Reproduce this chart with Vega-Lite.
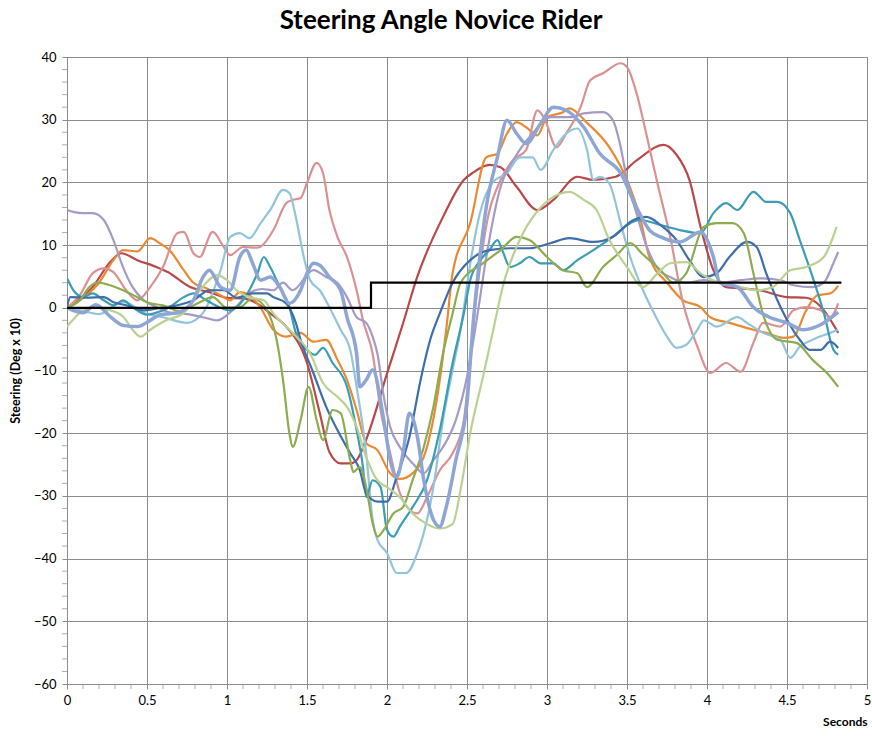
{
  "$schema": "https://vega.github.io/schema/vega-lite/v6.json",
  "width": 800,
  "height": 627,
  "autosize": {"type": "none"},
  "padding": {"left": 67, "top": 57, "right": 5, "bottom": 52},
  "background": "white",
  "config": {"view": {"stroke": "#8c8c8c"}, "font": "Lato"},
  "title": {"text": "Steering Angle Novice Rider", "font": "Lato", "fontSize": 26, "fontWeight": "bold", "color": "#000", "anchor": "middle", "offset": 17, "dx": -26},
  "datasets": {
    "steer": [
      {"s":"R","t":0,"v":0},{"s":"R","t":0.16,"v":3.3},{"s":"R","t":0.27,"v":7.3},{"s":"R","t":0.34,"v":8.7},{"s":"R","t":0.44,"v":7.6},{"s":"R","t":0.56,"v":6.5},{"s":"R","t":0.63,"v":5.7},{"s":"R","t":0.77,"v":3.3},{"s":"R","t":0.89,"v":2.5},{"s":"R","t":1.0,"v":1.6},{"s":"R","t":1.1,"v":1.5},{"s":"R","t":1.2,"v":0.5},{"s":"R","t":1.27,"v":-0.9},{"s":"R","t":1.37,"v":-3},{"s":"R","t":1.5,"v":-8.8},{"s":"R","t":1.58,"v":-16.8},{"s":"R","t":1.64,"v":-23},{"s":"R","t":1.71,"v":-24.8},{"s":"R","t":1.77,"v":-24.8},{"s":"R","t":1.81,"v":-24.3},{"s":"R","t":1.87,"v":-21},{"s":"R","t":2.0,"v":-10.5},{"s":"R","t":2.1,"v":-2.5},{"s":"R","t":2.19,"v":5},{"s":"R","t":2.35,"v":14.5},{"s":"R","t":2.48,"v":20.4},{"s":"R","t":2.54,"v":21.6},{"s":"R","t":2.64,"v":22.8},{"s":"R","t":2.71,"v":22.4},{"s":"R","t":2.81,"v":19.3},{"s":"R","t":2.94,"v":15.6},{"s":"R","t":3.04,"v":17.2},{"s":"R","t":3.19,"v":20.9},{"s":"R","t":3.29,"v":20.4},{"s":"R","t":3.43,"v":20.9},{"s":"R","t":3.56,"v":23.5},{"s":"R","t":3.73,"v":26},{"s":"R","t":3.81,"v":24.4},{"s":"R","t":3.89,"v":20.4},{"s":"R","t":3.96,"v":12.9},{"s":"R","t":4.04,"v":6},{"s":"R","t":4.12,"v":3.3},{"s":"R","t":4.21,"v":3.1},{"s":"R","t":4.33,"v":2.8},{"s":"R","t":4.5,"v":1.7},{"s":"R","t":4.62,"v":1.6},{"s":"R","t":4.71,"v":0.2},{"s":"R","t":4.82,"v":-4},
      {"s":"O","t":0,"v":0},{"s":"O","t":0.08,"v":1.2},{"s":"O","t":0.2,"v":4},{"s":"O","t":0.29,"v":7.6},{"s":"O","t":0.35,"v":9.2},{"s":"O","t":0.44,"v":9},{"s":"O","t":0.52,"v":11.1},{"s":"O","t":0.58,"v":10.3},{"s":"O","t":0.64,"v":9.2},{"s":"O","t":0.73,"v":6},{"s":"O","t":0.79,"v":4},{"s":"O","t":0.87,"v":3.1},{"s":"O","t":0.96,"v":2},{"s":"O","t":1.02,"v":1.2},{"s":"O","t":1.08,"v":2.5},{"s":"O","t":1.14,"v":2},{"s":"O","t":1.21,"v":0},{"s":"O","t":1.29,"v":-3.5},{"s":"O","t":1.37,"v":-4.6},{"s":"O","t":1.46,"v":-4},{"s":"O","t":1.54,"v":-5.4},{"s":"O","t":1.62,"v":-5.1},{"s":"O","t":1.69,"v":-8.3},{"s":"O","t":1.75,"v":-11.5},{"s":"O","t":1.81,"v":-16.3},{"s":"O","t":1.87,"v":-21.6},{"s":"O","t":1.94,"v":-22.7},{"s":"O","t":2.02,"v":-26.4},{"s":"O","t":2.08,"v":-27.3},{"s":"O","t":2.16,"v":-26.4},{"s":"O","t":2.25,"v":-22.2},{"s":"O","t":2.33,"v":-11.5},{"s":"O","t":2.37,"v":-3.5},{"s":"O","t":2.41,"v":5.5},{"s":"O","t":2.52,"v":13.5},{"s":"O","t":2.62,"v":24},{"s":"O","t":2.69,"v":24.6},{"s":"O","t":2.75,"v":27.8},{"s":"O","t":2.81,"v":29.6},{"s":"O","t":2.87,"v":28.8},{"s":"O","t":2.94,"v":27.5},{"s":"O","t":3.0,"v":30.4},{"s":"O","t":3.1,"v":31.2},{"s":"O","t":3.14,"v":31.8},{"s":"O","t":3.25,"v":29.5},{"s":"O","t":3.39,"v":25.6},{"s":"O","t":3.5,"v":20.4},{"s":"O","t":3.58,"v":14.5},{"s":"O","t":3.64,"v":8.1},{"s":"O","t":3.75,"v":4},{"s":"O","t":3.85,"v":1.2},{"s":"O","t":3.96,"v":0.1},{"s":"O","t":4.02,"v":-1.5},{"s":"O","t":4.14,"v":-2.4},{"s":"O","t":4.29,"v":-3.5},{"s":"O","t":4.37,"v":-4},{"s":"O","t":4.48,"v":-4.8},{"s":"O","t":4.54,"v":-4.6},{"s":"O","t":4.62,"v":-0.4},{"s":"O","t":4.69,"v":2},{"s":"O","t":4.77,"v":2.3},{"s":"O","t":4.82,"v":3.5},
      {"s":"P","t":0,"v":0},{"s":"P","t":0.08,"v":2},{"s":"P","t":0.16,"v":5.5},{"s":"P","t":0.23,"v":6.3},{"s":"P","t":0.29,"v":5.7},{"s":"P","t":0.37,"v":2.8},{"s":"P","t":0.44,"v":1.2},{"s":"P","t":0.52,"v":3.3},{"s":"P","t":0.6,"v":6.5},{"s":"P","t":0.69,"v":11.9},{"s":"P","t":0.73,"v":12.1},{"s":"P","t":0.79,"v":8.7},{"s":"P","t":0.83,"v":8.1},{"s":"P","t":0.91,"v":12.1},{"s":"P","t":0.98,"v":9.7},{"s":"P","t":1.02,"v":8.4},{"s":"P","t":1.1,"v":9.7},{"s":"P","t":1.19,"v":9.6},{"s":"P","t":1.29,"v":12.4},{"s":"P","t":1.37,"v":16.7},{"s":"P","t":1.41,"v":17.2},{"s":"P","t":1.46,"v":17.5},{"s":"P","t":1.5,"v":19.9},{"s":"P","t":1.56,"v":23.1},{"s":"P","t":1.6,"v":21.5},{"s":"P","t":1.64,"v":15.6},{"s":"P","t":1.69,"v":11.3},{"s":"P","t":1.75,"v":8.1},{"s":"P","t":1.81,"v":2.8},{"s":"P","t":1.85,"v":-2},{"s":"P","t":1.91,"v":-7.3},{"s":"P","t":1.96,"v":-16.3},{"s":"P","t":2.02,"v":-23.2},{"s":"P","t":2.08,"v":-29.5},{"s":"P","t":2.14,"v":-32.2},{"s":"P","t":2.19,"v":-32.8},{"s":"P","t":2.25,"v":-30.2},{"s":"P","t":2.33,"v":-25.9},{"s":"P","t":2.41,"v":-23.2},{"s":"P","t":2.48,"v":-18},{"s":"P","t":2.52,"v":-8},{"s":"P","t":2.56,"v":2},{"s":"P","t":2.62,"v":13},{"s":"P","t":2.71,"v":20.4},{"s":"P","t":2.79,"v":23.6},{"s":"P","t":2.87,"v":25.2},{"s":"P","t":2.94,"v":31.5},{"s":"P","t":2.98,"v":30.4},{"s":"P","t":3.06,"v":25.6},{"s":"P","t":3.12,"v":27.8},{"s":"P","t":3.21,"v":32},{"s":"P","t":3.27,"v":36.3},{"s":"P","t":3.35,"v":37.4},{"s":"P","t":3.46,"v":39},{"s":"P","t":3.5,"v":38.4},{"s":"P","t":3.56,"v":34.2},{"s":"P","t":3.62,"v":27.8},{"s":"P","t":3.69,"v":19.9},{"s":"P","t":3.77,"v":11.3},{"s":"P","t":3.85,"v":0.8},{"s":"P","t":3.94,"v":-6.2},{"s":"P","t":4.02,"v":-10.4},{"s":"P","t":4.12,"v":-8.8},{"s":"P","t":4.21,"v":-10.2},{"s":"P","t":4.29,"v":-5.6},{"s":"P","t":4.35,"v":-2.4},{"s":"P","t":4.46,"v":-3},{"s":"P","t":4.54,"v":-0.4},{"s":"P","t":4.62,"v":0.1},{"s":"P","t":4.71,"v":-0.4},{"s":"P","t":4.77,"v":-1.5},{"s":"P","t":4.82,"v":0.7},
      {"s":"LB","t":0,"v":0},{"s":"LB","t":0.1,"v":-0.5},{"s":"LB","t":0.2,"v":-1},{"s":"LB","t":0.35,"v":1},{"s":"LB","t":0.5,"v":-1},{"s":"LB","t":0.6,"v":-1.5},{"s":"LB","t":0.75,"v":-2.4},{"s":"LB","t":0.85,"v":-0.8},{"s":"LB","t":0.96,"v":6},{"s":"LB","t":1.02,"v":11.3},{"s":"LB","t":1.08,"v":11.9},{"s":"LB","t":1.14,"v":11.1},{"s":"LB","t":1.21,"v":13.5},{"s":"LB","t":1.27,"v":15.6},{"s":"LB","t":1.35,"v":18.8},{"s":"LB","t":1.39,"v":18.3},{"s":"LB","t":1.43,"v":14.5},{"s":"LB","t":1.48,"v":8.1},{"s":"LB","t":1.52,"v":4.4},{"s":"LB","t":1.58,"v":2.8},{"s":"LB","t":1.64,"v":0.1},{"s":"LB","t":1.71,"v":-3.5},{"s":"LB","t":1.77,"v":-6.7},{"s":"LB","t":1.81,"v":-12.6},{"s":"LB","t":1.87,"v":-23.2},{"s":"LB","t":1.91,"v":-33.8},{"s":"LB","t":1.94,"v":-37},{"s":"LB","t":2.0,"v":-39.1},{"s":"LB","t":2.06,"v":-42.3},{"s":"LB","t":2.12,"v":-42.3},{"s":"LB","t":2.19,"v":-39.1},{"s":"LB","t":2.25,"v":-33.8},{"s":"LB","t":2.29,"v":-28.6},{"s":"LB","t":2.35,"v":-17.9},{"s":"LB","t":2.41,"v":-9.9},{"s":"LB","t":2.46,"v":-3.5},{"s":"LB","t":2.52,"v":7},{"s":"LB","t":2.58,"v":15},{"s":"LB","t":2.66,"v":20},{"s":"LB","t":2.75,"v":21.5},{"s":"LB","t":2.83,"v":24},{"s":"LB","t":2.91,"v":24},{"s":"LB","t":2.96,"v":22},{"s":"LB","t":3.04,"v":25.2},{"s":"LB","t":3.12,"v":27.8},{"s":"LB","t":3.19,"v":28.6},{"s":"LB","t":3.25,"v":25.2},{"s":"LB","t":3.29,"v":20.4},{"s":"LB","t":3.33,"v":20.9},{"s":"LB","t":3.39,"v":19.8},{"s":"LB","t":3.46,"v":13.5},{"s":"LB","t":3.52,"v":8.1},{"s":"LB","t":3.6,"v":2.8},{"s":"LB","t":3.66,"v":-0.4},{"s":"LB","t":3.75,"v":-4.6},{"s":"LB","t":3.81,"v":-6.4},{"s":"LB","t":3.87,"v":-5.9},{"s":"LB","t":3.94,"v":-3.5},{"s":"LB","t":3.98,"v":-2},{"s":"LB","t":4.06,"v":-3},{"s":"LB","t":4.19,"v":-1.5},{"s":"LB","t":4.25,"v":-2.4},{"s":"LB","t":4.35,"v":-4},{"s":"LB","t":4.46,"v":-5.1},{"s":"LB","t":4.52,"v":-8},{"s":"LB","t":4.58,"v":-6.2},{"s":"LB","t":4.66,"v":-5.1},{"s":"LB","t":4.77,"v":-4},{"s":"LB","t":4.82,"v":-3.5},
      {"s":"LV","t":0,"v":15.6},{"s":"LV","t":0.04,"v":15.3},{"s":"LV","t":0.1,"v":15.1},{"s":"LV","t":0.16,"v":15.1},{"s":"LV","t":0.23,"v":14},{"s":"LV","t":0.29,"v":10.8},{"s":"LV","t":0.35,"v":6.5},{"s":"LV","t":0.41,"v":3.3},{"s":"LV","t":0.48,"v":1.2},{"s":"LV","t":0.56,"v":0.1},{"s":"LV","t":0.65,"v":-0.8},{"s":"LV","t":0.75,"v":-1},{"s":"LV","t":0.85,"v":-1.5},{"s":"LV","t":0.94,"v":-2},{"s":"LV","t":1.05,"v":0},{"s":"LV","t":1.15,"v":2.5},{"s":"LV","t":1.22,"v":3},{"s":"LV","t":1.29,"v":2.8},{"s":"LV","t":1.35,"v":4},{"s":"LV","t":1.41,"v":2.8},{"s":"LV","t":1.54,"v":6},{"s":"LV","t":1.62,"v":4.9},{"s":"LV","t":1.69,"v":4},{"s":"LV","t":1.75,"v":1.7},{"s":"LV","t":1.81,"v":-1.5},{"s":"LV","t":1.87,"v":-2.4},{"s":"LV","t":1.91,"v":-4.6},{"s":"LV","t":1.94,"v":-7.3},{"s":"LV","t":1.98,"v":-14.2},{"s":"LV","t":2.02,"v":-19},{"s":"LV","t":2.08,"v":-22.2},{"s":"LV","t":2.16,"v":-24.8},{"s":"LV","t":2.23,"v":-26.4},{"s":"LV","t":2.29,"v":-24.3},{"s":"LV","t":2.35,"v":-22.2},{"s":"LV","t":2.43,"v":-17.9},{"s":"LV","t":2.5,"v":-11},{"s":"LV","t":2.56,"v":-2},{"s":"LV","t":2.62,"v":8},{"s":"LV","t":2.71,"v":19.3},{"s":"LV","t":2.8,"v":24},{"s":"LV","t":2.91,"v":27.8},{"s":"LV","t":3.02,"v":30.4},{"s":"LV","t":3.16,"v":30.4},{"s":"LV","t":3.23,"v":31},{"s":"LV","t":3.35,"v":31.2},{"s":"LV","t":3.41,"v":30},{"s":"LV","t":3.46,"v":25.7},{"s":"LV","t":3.5,"v":20.4},{"s":"LV","t":3.56,"v":15},{"s":"LV","t":3.62,"v":10},{"s":"LV","t":3.7,"v":6},{"s":"LV","t":3.77,"v":4.9},{"s":"LV","t":3.87,"v":4},{"s":"LV","t":3.98,"v":4.4},{"s":"LV","t":4.08,"v":4},{"s":"LV","t":4.21,"v":4.4},{"s":"LV","t":4.33,"v":4.7},{"s":"LV","t":4.46,"v":4.4},{"s":"LV","t":4.54,"v":3.6},{"s":"LV","t":4.66,"v":3.3},{"s":"LV","t":4.73,"v":4},{"s":"LV","t":4.79,"v":7.1},{"s":"LV","t":4.82,"v":8.9},
      {"s":"T","t":0,"v":4.7},{"s":"T","t":0.04,"v":2.8},{"s":"T","t":0.1,"v":1.7},{"s":"T","t":0.16,"v":2.3},{"s":"T","t":0.23,"v":1.2},{"s":"T","t":0.29,"v":0.4},{"s":"T","t":0.35,"v":1.2},{"s":"T","t":0.41,"v":0.1},{"s":"T","t":0.5,"v":-1.1},{"s":"T","t":0.58,"v":-0.6},{"s":"T","t":0.64,"v":0.1},{"s":"T","t":0.73,"v":1.7},{"s":"T","t":0.79,"v":2.3},{"s":"T","t":0.87,"v":1.2},{"s":"T","t":0.96,"v":0},{"s":"T","t":1.02,"v":-0.4},{"s":"T","t":1.1,"v":1.2},{"s":"T","t":1.19,"v":5.5},{"s":"T","t":1.23,"v":8.1},{"s":"T","t":1.27,"v":6.5},{"s":"T","t":1.33,"v":3.3},{"s":"T","t":1.39,"v":0.1},{"s":"T","t":1.43,"v":-4},{"s":"T","t":1.5,"v":-6.7},{"s":"T","t":1.55,"v":-7.5},{"s":"T","t":1.6,"v":-6.4},{"s":"T","t":1.66,"v":-8.8},{"s":"T","t":1.75,"v":-12.6},{"s":"T","t":1.81,"v":-19.5},{"s":"T","t":1.85,"v":-25.4},{"s":"T","t":1.87,"v":-30.2},{"s":"T","t":1.91,"v":-27.5},{"s":"T","t":1.96,"v":-28.6},{"s":"T","t":2.0,"v":-35.4},{"s":"T","t":2.04,"v":-36.5},{"s":"T","t":2.08,"v":-34.9},{"s":"T","t":2.16,"v":-31.8},{"s":"T","t":2.25,"v":-27.5},{"s":"T","t":2.33,"v":-19.5},{"s":"T","t":2.41,"v":-8.8},{"s":"T","t":2.48,"v":-0.9},{"s":"T","t":2.52,"v":4.4},{"s":"T","t":2.58,"v":7.5},{"s":"T","t":2.64,"v":9.2},{"s":"T","t":2.69,"v":10.8},{"s":"T","t":2.72,"v":9.2},{"s":"T","t":2.77,"v":6.5},{"s":"T","t":2.83,"v":7.1},{"s":"T","t":2.89,"v":8.1},{"s":"T","t":2.96,"v":7.1},{"s":"T","t":3.04,"v":7.1},{"s":"T","t":3.1,"v":6},{"s":"T","t":3.19,"v":7.6},{"s":"T","t":3.29,"v":9.2},{"s":"T","t":3.41,"v":11.3},{"s":"T","t":3.52,"v":13.5},{"s":"T","t":3.58,"v":14},{"s":"T","t":3.71,"v":13.2},{"s":"T","t":3.83,"v":12.4},{"s":"T","t":3.96,"v":11.9},{"s":"T","t":4.04,"v":15.1},{"s":"T","t":4.12,"v":16.7},{"s":"T","t":4.19,"v":15.6},{"s":"T","t":4.29,"v":18.5},{"s":"T","t":4.37,"v":16.9},{"s":"T","t":4.44,"v":16.9},{"s":"T","t":4.52,"v":15.1},{"s":"T","t":4.58,"v":10.8},{"s":"T","t":4.66,"v":4.9},{"s":"T","t":4.73,"v":-0.8},{"s":"T","t":4.79,"v":-6.7},{"s":"T","t":4.82,"v":-7.5},
      {"s":"DB","t":0,"v":0},{"s":"DB","t":0.02,"v":1.7},{"s":"DB","t":0.12,"v":1.6},{"s":"DB","t":0.23,"v":1.7},{"s":"DB","t":0.29,"v":0.9},{"s":"DB","t":0.37,"v":0.4},{"s":"DB","t":0.48,"v":-0.4},{"s":"DB","t":0.58,"v":0},{"s":"DB","t":0.69,"v":0.4},{"s":"DB","t":0.79,"v":1.2},{"s":"DB","t":0.89,"v":2.8},{"s":"DB","t":0.98,"v":2.8},{"s":"DB","t":1.06,"v":1.6},{"s":"DB","t":1.16,"v":2.3},{"s":"DB","t":1.25,"v":2.3},{"s":"DB","t":1.29,"v":1.7},{"s":"DB","t":1.37,"v":0.7},{"s":"DB","t":1.43,"v":-2.4},{"s":"DB","t":1.46,"v":-5.1},{"s":"DB","t":1.54,"v":-10.4},{"s":"DB","t":1.62,"v":-15.8},{"s":"DB","t":1.69,"v":-19.5},{"s":"DB","t":1.77,"v":-23.2},{"s":"DB","t":1.83,"v":-25.9},{"s":"DB","t":1.87,"v":-29.6},{"s":"DB","t":1.94,"v":-30.9},{"s":"DB","t":2.0,"v":-30.9},{"s":"DB","t":2.06,"v":-27},{"s":"DB","t":2.14,"v":-20.6},{"s":"DB","t":2.21,"v":-11.5},{"s":"DB","t":2.27,"v":-5.1},{"s":"DB","t":2.33,"v":-0.9},{"s":"DB","t":2.41,"v":4},{"s":"DB","t":2.52,"v":7.6},{"s":"DB","t":2.64,"v":9.2},{"s":"DB","t":2.77,"v":9.5},{"s":"DB","t":2.89,"v":9.5},{"s":"DB","t":3.02,"v":10.3},{"s":"DB","t":3.14,"v":11.1},{"s":"DB","t":3.29,"v":10.5},{"s":"DB","t":3.41,"v":11.3},{"s":"DB","t":3.54,"v":14},{"s":"DB","t":3.62,"v":14.5},{"s":"DB","t":3.71,"v":13.2},{"s":"DB","t":3.81,"v":10.8},{"s":"DB","t":3.89,"v":7.6},{"s":"DB","t":3.98,"v":4.9},{"s":"DB","t":4.06,"v":5.5},{"s":"DB","t":4.14,"v":8.1},{"s":"DB","t":4.25,"v":10.5},{"s":"DB","t":4.31,"v":9.7},{"s":"DB","t":4.37,"v":5.5},{"s":"DB","t":4.46,"v":0.1},{"s":"DB","t":4.5,"v":-1.9},{"s":"DB","t":4.58,"v":-5.1},{"s":"DB","t":4.64,"v":-6.7},{"s":"DB","t":4.71,"v":-6.7},{"s":"DB","t":4.77,"v":-5.4},{"s":"DB","t":4.82,"v":-6.4},
      {"s":"OG","t":0,"v":0},{"s":"OG","t":0.08,"v":1.2},{"s":"OG","t":0.14,"v":3.3},{"s":"OG","t":0.19,"v":4},{"s":"OG","t":0.27,"v":3.6},{"s":"OG","t":0.35,"v":2.8},{"s":"OG","t":0.44,"v":1.7},{"s":"OG","t":0.52,"v":0.7},{"s":"OG","t":0.6,"v":0.4},{"s":"OG","t":0.7,"v":-0.5},{"s":"OG","t":0.83,"v":0.9},{"s":"OG","t":0.91,"v":1.7},{"s":"OG","t":1.0,"v":0},{"s":"OG","t":1.08,"v":0.1},{"s":"OG","t":1.16,"v":1.5},{"s":"OG","t":1.25,"v":-0.4},{"s":"OG","t":1.31,"v":-5.1},{"s":"OG","t":1.35,"v":-11.5},{"s":"OG","t":1.39,"v":-20},{"s":"OG","t":1.41,"v":-22.2},{"s":"OG","t":1.46,"v":-17.9},{"s":"OG","t":1.51,"v":-12.6},{"s":"OG","t":1.56,"v":-17.9},{"s":"OG","t":1.6,"v":-21.1},{"s":"OG","t":1.66,"v":-16.3},{"s":"OG","t":1.71,"v":-16.8},{"s":"OG","t":1.77,"v":-24.3},{"s":"OG","t":1.79,"v":-26.2},{"s":"OG","t":1.83,"v":-25.4},{"s":"OG","t":1.87,"v":-28.6},{"s":"OG","t":1.91,"v":-34.3},{"s":"OG","t":1.94,"v":-36.5},{"s":"OG","t":1.98,"v":-35.4},{"s":"OG","t":2.04,"v":-32.8},{"s":"OG","t":2.1,"v":-31.8},{"s":"OG","t":2.16,"v":-27.5},{"s":"OG","t":2.23,"v":-22.2},{"s":"OG","t":2.29,"v":-15.8},{"s":"OG","t":2.35,"v":-7.3},{"s":"OG","t":2.41,"v":-0.9},{"s":"OG","t":2.46,"v":4},{"s":"OG","t":2.6,"v":7.1},{"s":"OG","t":2.71,"v":9.2},{"s":"OG","t":2.81,"v":11.3},{"s":"OG","t":2.89,"v":10.8},{"s":"OG","t":3.0,"v":8.1},{"s":"OG","t":3.1,"v":6},{"s":"OG","t":3.19,"v":5.5},{"s":"OG","t":3.25,"v":3.3},{"s":"OG","t":3.35,"v":6.5},{"s":"OG","t":3.44,"v":8.5},{"s":"OG","t":3.52,"v":10.3},{"s":"OG","t":3.6,"v":8.5},{"s":"OG","t":3.71,"v":6},{"s":"OG","t":3.79,"v":4},{"s":"OG","t":3.87,"v":5.5},{"s":"OG","t":3.98,"v":12.9},{"s":"OG","t":4.06,"v":13.5},{"s":"OG","t":4.16,"v":13.5},{"s":"OG","t":4.23,"v":11.9},{"s":"OG","t":4.29,"v":5.5},{"s":"OG","t":4.35,"v":-1},{"s":"OG","t":4.44,"v":-5.1},{"s":"OG","t":4.56,"v":-5.6},{"s":"OG","t":4.66,"v":-8.3},{"s":"OG","t":4.75,"v":-10.4},{"s":"OG","t":4.82,"v":-12.6},
      {"s":"LG","t":0,"v":-3},{"s":"LG","t":0.02,"v":-2.4},{"s":"LG","t":0.08,"v":-0.8},{"s":"LG","t":0.16,"v":0.1},{"s":"LG","t":0.27,"v":-0.4},{"s":"LG","t":0.35,"v":-1.4},{"s":"LG","t":0.41,"v":-3.5},{"s":"LG","t":0.46,"v":-4.6},{"s":"LG","t":0.52,"v":-3.5},{"s":"LG","t":0.62,"v":-2},{"s":"LG","t":0.73,"v":-0.8},{"s":"LG","t":0.83,"v":2.8},{"s":"LG","t":0.94,"v":5.2},{"s":"LG","t":1.0,"v":4.4},{"s":"LG","t":1.06,"v":2.8},{"s":"LG","t":1.14,"v":1.7},{"s":"LG","t":1.23,"v":1.2},{"s":"LG","t":1.29,"v":-0.9},{"s":"LG","t":1.41,"v":-4},{"s":"LG","t":1.52,"v":-7.3},{"s":"LG","t":1.6,"v":-12},{"s":"LG","t":1.69,"v":-14.2},{"s":"LG","t":1.75,"v":-15.8},{"s":"LG","t":1.81,"v":-19},{"s":"LG","t":1.87,"v":-23.8},{"s":"LG","t":1.94,"v":-27.5},{"s":"LG","t":2.0,"v":-28.6},{"s":"LG","t":2.08,"v":-30.2},{"s":"LG","t":2.16,"v":-32.8},{"s":"LG","t":2.25,"v":-34.5},{"s":"LG","t":2.33,"v":-35.2},{"s":"LG","t":2.41,"v":-34.5},{"s":"LG","t":2.46,"v":-29},{"s":"LG","t":2.52,"v":-20},{"s":"LG","t":2.6,"v":-11},{"s":"LG","t":2.66,"v":-4},{"s":"LG","t":2.73,"v":4},{"s":"LG","t":2.79,"v":8.5},{"s":"LG","t":2.85,"v":11.9},{"s":"LG","t":2.96,"v":16},{"s":"LG","t":3.08,"v":18.2},{"s":"LG","t":3.14,"v":18.5},{"s":"LG","t":3.23,"v":17.2},{"s":"LG","t":3.31,"v":15.6},{"s":"LG","t":3.39,"v":10.8},{"s":"LG","t":3.5,"v":6.5},{"s":"LG","t":3.6,"v":3.3},{"s":"LG","t":3.69,"v":5.5},{"s":"LG","t":3.77,"v":7.1},{"s":"LG","t":3.87,"v":7.3},{"s":"LG","t":3.96,"v":5.5},{"s":"LG","t":4.04,"v":4.4},{"s":"LG","t":4.12,"v":4},{"s":"LG","t":4.21,"v":3.3},{"s":"LG","t":4.31,"v":2.8},{"s":"LG","t":4.41,"v":3.3},{"s":"LG","t":4.52,"v":6},{"s":"LG","t":4.62,"v":6.5},{"s":"LG","t":4.73,"v":8.1},{"s":"LG","t":4.81,"v":12.9},
      {"s":"PW","t":0,"v":0},{"s":"PW","t":0.1,"v":-0.8},{"s":"PW","t":0.18,"v":0.5},{"s":"PW","t":0.27,"v":-1.4},{"s":"PW","t":0.35,"v":-2.8},{"s":"PW","t":0.44,"v":-3},{"s":"PW","t":0.52,"v":-2},{"s":"PW","t":0.58,"v":-1.1},{"s":"PW","t":0.69,"v":-0.8},{"s":"PW","t":0.79,"v":1.2},{"s":"PW","t":0.85,"v":4.9},{"s":"PW","t":0.89,"v":6},{"s":"PW","t":0.96,"v":3.3},{"s":"PW","t":1.02,"v":2.8},{"s":"PW","t":1.08,"v":8.1},{"s":"PW","t":1.12,"v":9.2},{"s":"PW","t":1.16,"v":7.1},{"s":"PW","t":1.21,"v":4.4},{"s":"PW","t":1.27,"v":4.9},{"s":"PW","t":1.33,"v":3.3},{"s":"PW","t":1.39,"v":0.7},{"s":"PW","t":1.46,"v":2.8},{"s":"PW","t":1.5,"v":5.5},{"s":"PW","t":1.54,"v":7.1},{"s":"PW","t":1.58,"v":6.8},{"s":"PW","t":1.64,"v":4.9},{"s":"PW","t":1.71,"v":2.8},{"s":"PW","t":1.75,"v":-1.5},{"s":"PW","t":1.81,"v":-7.3},{"s":"PW","t":1.83,"v":-12.6},{"s":"PW","t":1.87,"v":-11.5},{"s":"PW","t":1.91,"v":-9.9},{"s":"PW","t":1.98,"v":-17.9},{"s":"PW","t":2.02,"v":-24.3},{"s":"PW","t":2.06,"v":-27},{"s":"PW","t":2.1,"v":-23.2},{"s":"PW","t":2.14,"v":-16.8},{"s":"PW","t":2.19,"v":-20.6},{"s":"PW","t":2.23,"v":-27.5},{"s":"PW","t":2.29,"v":-33.8},{"s":"PW","t":2.33,"v":-34.9},{"s":"PW","t":2.37,"v":-31.8},{"s":"PW","t":2.43,"v":-24.3},{"s":"PW","t":2.5,"v":-15.2},{"s":"PW","t":2.54,"v":-2},{"s":"PW","t":2.58,"v":8},{"s":"PW","t":2.62,"v":16},{"s":"PW","t":2.69,"v":24},{"s":"PW","t":2.75,"v":29.9},{"s":"PW","t":2.81,"v":27.8},{"s":"PW","t":2.87,"v":26.2},{"s":"PW","t":2.96,"v":29.4},{"s":"PW","t":3.04,"v":32},{"s":"PW","t":3.12,"v":31.5},{"s":"PW","t":3.23,"v":28.8},{"s":"PW","t":3.33,"v":24.6},{"s":"PW","t":3.46,"v":21.5},{"s":"PW","t":3.56,"v":16},{"s":"PW","t":3.64,"v":12.4},{"s":"PW","t":3.71,"v":11.3},{"s":"PW","t":3.83,"v":10.5},{"s":"PW","t":3.96,"v":12.1},{"s":"PW","t":4.04,"v":8.1},{"s":"PW","t":4.08,"v":4},{"s":"PW","t":4.19,"v":3.3},{"s":"PW","t":4.29,"v":0.1},{"s":"PW","t":4.39,"v":-1.5},{"s":"PW","t":4.5,"v":-2.4},{"s":"PW","t":4.6,"v":-3.5},{"s":"PW","t":4.71,"v":-2.7},{"s":"PW","t":4.82,"v":-0.7}
    ],
    "step": [
      {"t": 0, "v": 0}, {"t": 1.9, "v": 4}, {"t": 4.84, "v": 4}
    ],
    "xminor": [
      {"t": 0.1},{"t": 0.2},{"t": 0.3},{"t": 0.4},{"t": 0.6},{"t": 0.7},{"t": 0.8},{"t": 0.9},{"t": 1.1},{"t": 1.2},{"t": 1.3},{"t": 1.4},{"t": 1.6},{"t": 1.7},{"t": 1.8},{"t": 1.9},{"t": 2.1},{"t": 2.2},{"t": 2.3},{"t": 2.4},{"t": 2.6},{"t": 2.7},{"t": 2.8},{"t": 2.9},{"t": 3.1},{"t": 3.2},{"t": 3.3},{"t": 3.4},{"t": 3.6},{"t": 3.7},{"t": 3.8},{"t": 3.9},{"t": 4.1},{"t": 4.2},{"t": 4.3},{"t": 4.4},{"t": 4.6},{"t": 4.7},{"t": 4.8},{"t": 4.9}
    ],
    "yminor": [
      {"v": -58},{"v": -56},{"v": -54},{"v": -52},{"v": -48},{"v": -46},{"v": -44},{"v": -42},{"v": -38},{"v": -36},{"v": -34},{"v": -32},{"v": -28},{"v": -26},{"v": -24},{"v": -22},{"v": -18},{"v": -16},{"v": -14},{"v": -12},{"v": -8},{"v": -6},{"v": -4},{"v": -2},{"v": 2},{"v": 4},{"v": 6},{"v": 8},{"v": 12},{"v": 14},{"v": 16},{"v": 18},{"v": 22},{"v": 24},{"v": 26},{"v": 28},{"v": 32},{"v": 34},{"v": 36},{"v": 38}
    ]
  },
  "layer": [
    {
      "data": {"name": "xminor"},
      "mark": {"type": "tick", "orient": "vertical", "color": "#8c8c8c", "thickness": 1, "size": 5, "yOffset": 2.5},
      "encoding": {
        "x": {"field": "t", "type": "quantitative", "scale": {"domain": [0, 5], "nice": false, "zero": false}},
        "y": {"datum": -60, "type": "quantitative"}
      }
    },
    {
      "data": {"name": "yminor"},
      "mark": {"type": "tick", "orient": "horizontal", "color": "#8c8c8c", "thickness": 1, "size": 5, "xOffset": -2.5},
      "encoding": {
        "y": {"field": "v", "type": "quantitative"},
        "x": {"datum": 0, "type": "quantitative"}
      }
    },
    {
      "data": {"name": "steer"},
      "transform": [{"filter": "datum.s != 'PW'"}],
      "mark": {"type": "line", "interpolate": "monotone", "strokeWidth": 2.2, "clip": true},
      "encoding": {
        "x": {
          "field": "t", "type": "quantitative",
          "scale": {"domain": [0, 5], "nice": false, "zero": false},
          "axis": {
            "title": "Seconds", "values": [0, 0.5, 1, 1.5, 2, 2.5, 3, 3.5, 4, 4.5, 5],
            "labelExpr": "'' + datum.value", "grid": true, "gridColor": "#8c8c8c", "domainColor": "#8c8c8c",
            "tickColor": "#8c8c8c", "tickSize": 5, "labelFont": "Lato", "labelFontSize": 13, "labelColor": "#000",
            "labelPadding": 5, "labelOverlap": false, "labelFlush": false,
            "titleFont": "Lato", "titleFontWeight": "bold", "titleFontSize": 12, "titleColor": "#000",
            "titleAnchor": "end", "titleAlign": "right", "titlePadding": 9
          }
        },
        "y": {
          "field": "v", "type": "quantitative",
          "scale": {"domain": [-60, 40], "nice": false},
          "axis": {
            "title": "Steering (Deg x 10)", "values": [-60, -50, -40, -30, -20, -10, 0, 10, 20, 30, 40],
            "grid": true, "gridColor": "#8c8c8c", "domainColor": "#8c8c8c", "tickColor": "#8c8c8c", "tickSize": 5,
            "labelFont": "Lato", "labelFontSize": 13, "labelColor": "#000", "labelPadding": 6,
            "titleFont": "Lato", "titleFontWeight": "bold", "titleFontSize": 12.5, "titleColor": "#000", "titlePadding": 11
          }
        },
        "color": {
          "field": "s", "type": "nominal", "legend": null,
          "scale": {
            "domain": ["R", "O", "P", "LB", "LV", "T", "DB", "OG", "LG", "PW"],
            "range": ["#b9484a", "#e98a32", "#d99193", "#92c4db", "#a59ac6", "#3a9db5", "#3e6eab", "#8cac4f", "#bad193", "#8da6d6"]
          }
        }
      }
    },
    {
      "data": {"name": "steer"},
      "transform": [{"filter": "datum.s == 'PW'"}],
      "mark": {"type": "line", "interpolate": "monotone", "strokeWidth": 3.5, "clip": true},
      "encoding": {
        "x": {"field": "t", "type": "quantitative"},
        "y": {"field": "v", "type": "quantitative"},
        "color": {"field": "s", "type": "nominal", "legend": null}
      }
    },
    {
      "data": {"name": "step"},
      "mark": {"type": "line", "interpolate": "step-after", "color": "#000000", "strokeWidth": 2.2},
      "encoding": {
        "x": {"field": "t", "type": "quantitative"},
        "y": {"field": "v", "type": "quantitative"}
      }
    }
  ]
}
